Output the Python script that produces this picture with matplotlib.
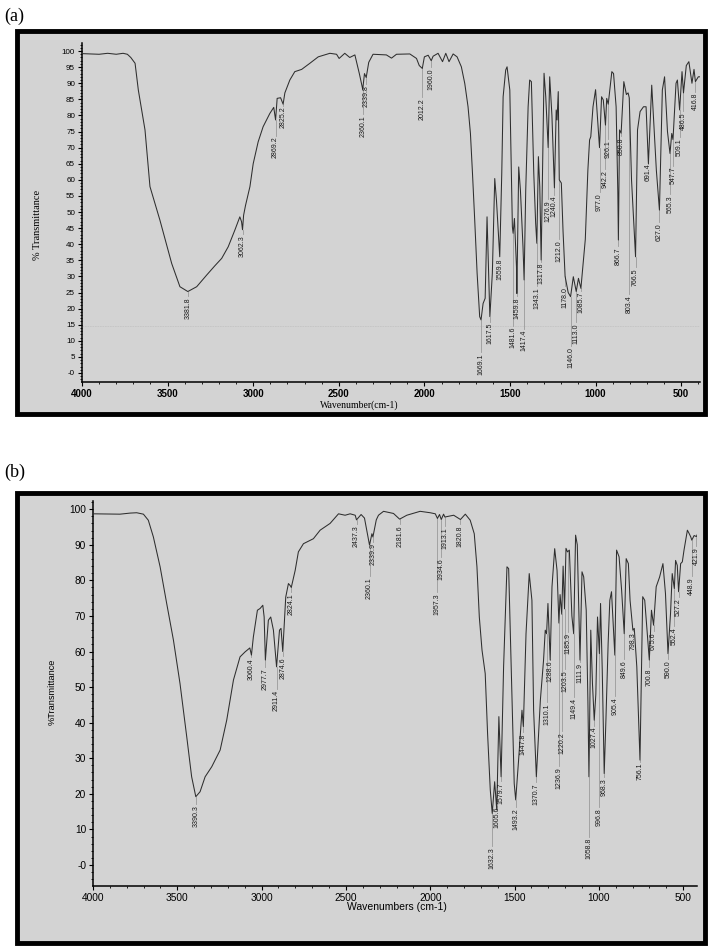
import numpy as np
import matplotlib
matplotlib.use("Agg")
import matplotlib.pyplot as plt
from matplotlib.patches import Rectangle
from matplotlib.ticker import MultipleLocator, FuncFormatter

# --- panel (a) spectrum: wavenumber (cm-1), % transmittance ---
a_wn = [4000, 3900, 3850, 3800, 3760, 3735, 3715, 3690, 3671, 3632, 3603, 3545,
        3476, 3428, 3381.8, 3330, 3272, 3224, 3184, 3146, 3107, 3078, 3068, 3062.3,
        3056, 3045, 3019, 3000, 2971, 2942, 2903, 2880, 2869.2, 2860, 2840, 2825.2,
        2815, 2786, 2757, 2717, 2669, 2620, 2552, 2513, 2498, 2465, 2436, 2406,
        2380, 2360.1, 2350, 2339.8, 2325, 2300, 2222, 2192, 2163, 2085, 2046, 2030,
        2012.2, 2000, 1978, 1960.0, 1949, 1920, 1894, 1875, 1856, 1832, 1809, 1784,
        1764, 1745, 1731, 1719, 1706, 1692, 1677, 1669.1, 1657, 1645, 1634, 1622,
        1617.5, 1603, 1589, 1579, 1568, 1559.8, 1548, 1540, 1525, 1517, 1501, 1486,
        1481.6, 1474, 1462, 1459.8, 1449, 1439, 1424, 1417.4, 1408, 1394, 1385, 1375,
        1361, 1350, 1343.1, 1334, 1326, 1317.8, 1307, 1301, 1291, 1276.9, 1268, 1255,
        1240.4, 1230, 1225, 1218, 1214, 1212.0, 1200, 1190, 1178.0, 1160, 1146.0, 1130,
        1113.0, 1100, 1085.7, 1060, 1045, 1035, 1028, 1015, 1000, 977.0, 965, 955,
        942.2, 935, 926.1, 905, 895, 880, 870, 866.7, 860, 850.8, 835, 820,
        810, 803.4, 790, 766.5, 755, 740, 720, 705, 691.4, 672, 645, 627.0,
        610, 597, 580, 565.3, 555, 547.7, 530, 522, 509.1, 495, 486.5, 470,
        455, 437, 425, 416.8, 400, 390]
a_T = [99.2, 99.0, 99.3, 99.0, 99.3, 99.0, 98.0, 96.2, 87.9, 75.5, 57.9, 47.5,
       34.0, 26.8, 25.3, 26.8, 30.4, 33.3, 35.6, 39.2, 44.4, 48.5, 47.0, 44.5,
       49.0, 52.0, 57.9, 65.0, 71.8, 76.5, 80.6, 82.5, 78.6, 85.3, 85.5, 83.5,
       87.0, 91.0, 93.6, 94.3, 96.2, 98.2, 99.3, 99.0, 97.7, 99.3, 98.0, 98.8,
       93.0, 88.1, 93.0, 91.8, 96.5, 99.0, 98.8, 97.8, 99.0, 99.1, 97.7, 95.5,
       94.6, 98.2, 98.7, 97.0, 98.4, 99.3, 96.7, 99.3, 96.7, 99.1, 98.2, 95.1,
       89.9, 82.7, 74.4, 62.0, 47.5, 31.0, 17.5, 16.5, 21.6, 23.2, 48.5, 25.8,
       17.5, 31.0, 60.4, 53.7, 43.4, 36.1, 62.0, 85.8, 94.1, 95.1, 87.9, 45.4,
       43.4, 48.0, 33.0, 24.7, 64.0, 56.8, 39.2, 28.9, 56.8, 82.7, 91.0, 90.5,
       62.0, 46.5, 40.3, 67.2, 57.9, 35.1, 72.3, 93.1, 85.8, 70.0, 92.0, 80.0,
       57.5, 81.7, 78.6, 87.4, 70.0, 60.0, 59.0, 44.0, 30.0, 25.0, 23.7, 29.9,
       25.3, 29.4, 26.3, 41.5, 63.0, 72.4, 73.4, 82.7, 88.0, 70.0, 85.8, 84.8,
       77.0, 85.3, 83.5, 93.6, 93.0, 82.7, 56.0, 41.3, 75.5, 74.5, 90.5, 86.5,
       87.0, 85.5, 60.0, 36.1, 75.5, 81.2, 82.7, 82.7, 65.0, 89.4, 63.0, 50.6,
       87.9, 92.0, 75.0, 68.2, 74.4, 72.5, 90.0, 91.0, 81.7, 93.6, 87.0, 95.5,
       96.7, 90.0, 94.3, 90.5, 92.0, 92.0]
a_peaks = [3381.8, 3062.3, 2869.2, 2825.2, 2360.1, 2339.8, 2012.2, 1960.0, 1669.1,
           1617.5, 1559.8, 1481.6, 1459.8, 1417.4, 1343.1, 1317.8, 1276.9, 1240.4,
           1212.0, 1178.0, 1146.0, 1113.0, 1085.7, 977.0, 942.2, 926.1, 866.7, 850.8,
           803.4, 766.5, 691.4, 627.0, 565.3, 547.7, 509.1, 486.5, 416.8]
# where each peak label starts (top of rotated text), % units
a_label_y = [23.6, 42.9, 73.4, 82.7, 80.1, 89.4, 85.3, 94.6, 6.2,
             15.5, 35.7, 14.3, 23.6, 13.4, 26.7, 34.2, 53.7, 55.0,
             41.3, 26.7, 8.1, 15.5, 25.2, 55.9, 63.0, 72.4, 39.0, 73.3,
             24.2, 32.6, 65.2, 46.6, 55.3, 64.0, 73.0, 81.0, 87.0]

# --- panel (b) spectrum ---
b_wn = [4000, 3840, 3780, 3741, 3701, 3672, 3642, 3602, 3563, 3523, 3484, 3444,
        3415, 3390.3, 3365, 3335, 3296, 3246, 3207, 3167, 3128, 3098, 3070, 3060.4,
        3049, 3025, 3009, 2993, 2985, 2977.7, 2960, 2946, 2930, 2911.4, 2894, 2885,
        2874.6, 2857, 2841, 2830, 2824.1, 2801, 2782, 2752, 2693, 2653, 2594, 2544,
        2505, 2475, 2445, 2437.3, 2410, 2390, 2372, 2360.1, 2346, 2339.9, 2320, 2307,
        2277, 2218, 2181.6, 2139, 2060, 2000, 1970, 1957.3, 1945, 1934.6, 1921, 1913.1,
        1861, 1820.8, 1792, 1763, 1739, 1723, 1709, 1693, 1674, 1660, 1644, 1632.3,
        1618, 1605.6, 1593, 1579.7, 1565, 1545, 1535, 1515, 1502, 1493.2, 1476, 1456,
        1447.8, 1432, 1413, 1397, 1387, 1370.7, 1347, 1328, 1318, 1310.1, 1302, 1288.6,
        1278, 1262, 1248, 1236.9, 1230, 1220.2, 1212, 1203.5, 1195, 1185.9, 1175, 1160,
        1149.4, 1138, 1128, 1111.9, 1100, 1090, 1075, 1065, 1058.8, 1048, 1038, 1027.4,
        1018, 1008, 996.8, 990, 980, 968.3, 958, 945, 935, 925, 905.4, 895,
        880, 865, 849.6, 838, 825, 815, 798.3, 790, 775, 756.1, 740, 728,
        700.8, 688, 675.6, 660, 640, 620, 605, 590.0, 575, 565, 552.4, 545,
        535, 527.2, 515, 505, 495, 475, 465, 455, 448.9, 435, 421.9, 415]
b_T = [98.7, 98.6, 98.9, 99.0, 98.6, 96.9, 92.2, 83.8, 73.5, 63.2, 51.0, 36.0,
       24.8, 19.2, 20.6, 24.8, 27.6, 32.3, 40.7, 52.0, 58.5, 59.9, 61.0, 59.0,
       64.1, 71.6, 72.1, 73.0, 69.7, 57.6, 68.8, 69.7, 66.0, 55.7, 66.0, 66.5,
       60.0, 75.3, 79.1, 78.5, 78.0, 82.8, 88.0, 90.3, 91.7, 94.1, 96.0, 98.7,
       98.3, 98.7, 98.3, 97.0, 98.5, 97.5, 93.0, 89.9, 93.1, 92.2, 97.0, 98.3,
       99.4, 98.8, 97.2, 98.3, 99.4, 99.0, 98.7, 97.4, 98.5, 97.1, 98.6, 97.8,
       98.3, 97.1, 98.6, 96.9, 93.1, 83.8, 69.7, 60.4, 53.8, 37.0, 21.1, 14.5,
       23.4, 15.5, 41.7, 24.8, 55.7, 83.8, 83.3, 46.3, 22.9, 18.3, 29.5, 43.5,
       38.9, 65.0, 81.9, 74.4, 43.5, 24.8, 46.3, 57.6, 66.0, 65.0, 73.5, 57.6,
       78.2, 88.9, 82.8, 68.0, 76.0, 70.5, 84.0, 72.0, 89.0, 88.0, 88.5, 70.0,
       65.0, 92.7, 90.0, 57.6, 82.4, 81.0, 71.6, 46.0, 24.8, 66.0, 51.0, 40.7,
       48.0, 69.7, 59.4, 73.5, 55.0, 25.7, 41.0, 62.3, 74.4, 76.8, 59.0, 88.5,
       86.6, 77.2, 65.0, 86.1, 84.7, 74.4, 66.0, 66.5, 55.7, 29.5, 75.4, 74.4,
       57.6, 71.6, 67.4, 78.2, 80.9, 84.7, 76.3, 59.4, 70.7, 81.9, 77.7, 85.6,
       84.2, 76.8, 84.7, 85.2, 88.5, 94.1, 93.2, 92.2, 91.3, 92.6, 92.3, 93.0]
b_peaks = [3390.3, 3060.4, 2977.7, 2911.4, 2874.6, 2824.1, 2437.3, 2360.1, 2339.9,
           2181.6, 1957.3, 1934.6, 1913.1, 1820.8, 1632.3, 1605.6, 1579.7, 1493.2,
           1447.8, 1370.7, 1310.1, 1288.6, 1236.9, 1220.2, 1203.5, 1185.9, 1149.4,
           1111.9, 1058.8, 1027.4, 996.8, 968.3, 905.4, 849.6, 798.3, 756.1, 700.8,
           675.6, 590.0, 552.4, 527.2, 448.9, 421.9]
b_label_y = [16.9, 58.1, 55.3, 49.2, 58.4, 76.4, 95.5, 80.9, 90.4,
             95.5, 76.4, 86.2, 95.0, 95.5, 5.0, 16.3, 23.3, 16.0,
             37.0, 23.0, 45.5, 57.6, 27.5, 37.4, 54.8, 65.2, 46.9,
             56.7, 7.6, 38.8, 16.0, 24.4, 47.2, 57.6, 65.4, 28.7, 55.3,
             65.4, 57.6, 66.9, 75.0, 80.9, 89.3]

W, H = 709, 948
fig = plt.figure(figsize=(W / 100, H / 100), dpi=100)

SANS = ['Liberation Sans', 'DejaVu Sans']
NARROW = ['Liberation Sans Narrow', 'Liberation Sans', 'DejaVu Sans']
SERIF = ['Liberation Serif', 'DejaVu Serif']


def fx(px):
    return px / W


def fy(py):
    return 1 - py / H


def panel_box(x0, y0, x1, y1):
    fig.add_artist(Rectangle((fx(x0), fy(y1)), fx(x1 - x0), (y1 - y0) / H,
                             transform=fig.transFigure, facecolor='#d3d3d3',
                             edgecolor='black', lw=3.5, zorder=0))


def zero_fmt(v, pos):
    return '-0' if abs(v) < 1e-9 else '%d' % v


def draw_spectrum(ax, wn, T, peaks, label_y):
    wn = np.array(wn)
    T = np.array(T)
    ax.plot(wn, T, color='#2e2e2e', lw=0.75, zorder=3)
    dips = np.interp(peaks, wn[::-1], T[::-1])
    for p, d, ly in zip(peaks, dips, label_y):
        ax.plot([p, p], [d, ly + 0.3], color='#9a9a9a', lw=0.6, zorder=2)
        ax.text(p, ly, '%.1f' % p, rotation=90, ha='center', va='top',
                fontsize=5, family=NARROW, color='#1a1a1a', zorder=4)


def style_axes(ax):
    ax.set_facecolor('none')
    for s in ['top', 'right']:
        ax.spines[s].set_visible(False)
    for s in ['left', 'bottom']:
        ax.spines[s].set_linewidth(1.1)
    ax.yaxis.set_major_formatter(FuncFormatter(zero_fmt))
    ax.tick_params(axis='both', which='major', length=3, width=0.8, pad=2)
    ax.tick_params(axis='both', which='minor', length=1.5, width=0.6)


# ---------------- panel (a) ----------------
panel_box(17, 31, 705, 414)
fig.text(fx(4), fy(16), '(a)', fontsize=13, family=SERIF, va='center', ha='left')
ax_a = fig.add_axes([fx(82), fy(382), fx(700 - 82), (382 - 43) / H])
style_axes(ax_a)
ax_a.set_xlim(4000, 390)
ax_a.set_ylim(-2.8, 102.5)
ax_a.set_xticks([4000, 3500, 3000, 2500, 2000, 1500, 1000, 500])
ax_a.yaxis.set_major_locator(MultipleLocator(5))
ax_a.yaxis.set_minor_locator(MultipleLocator(1))
ax_a.xaxis.set_minor_locator(MultipleLocator(100))
ax_a.tick_params(axis='y', labelsize=5.8)
ax_a.tick_params(axis='x', labelsize=7)
for lab in ax_a.get_xticklabels() + ax_a.get_yticklabels():
    lab.set_family(SANS)
for lab in ax_a.get_xticklabels():
    lab.set_fontweight('bold')
ax_a.axhline(14.5, color='#c4c4c4', lw=0.6, ls=(0, (2, 1)), zorder=1)
draw_spectrum(ax_a, a_wn, a_T, a_peaks, a_label_y)
fig.text(fx(38), fy(225), '% Transmittance', rotation=90, fontsize=7.5,
         family=SERIF, ha='center', va='center')
fig.text(fx(359), fy(405), 'Wavenumber(cm-1)', fontsize=7, family=SERIF,
         ha='center', va='center')

# ---------------- panel (b) ----------------
panel_box(17, 493, 705, 943)
fig.text(fx(4), fy(472), '(b)', fontsize=13, family=SERIF, va='center', ha='left')
ax_b = fig.add_axes([fx(93), fy(886), fx(697 - 93), (886 - 501) / H])
style_axes(ax_b)
ax_b.set_xlim(4000, 418)
ax_b.set_ylim(-5.9, 102.3)
ax_b.set_xticks([4000, 3500, 3000, 2500, 2000, 1500, 1000, 500])
ax_b.yaxis.set_major_locator(MultipleLocator(10))
ax_b.yaxis.set_minor_locator(MultipleLocator(2))
ax_b.xaxis.set_minor_locator(MultipleLocator(100))
ax_b.tick_params(axis='y', labelsize=7.3)
ax_b.tick_params(axis='x', labelsize=7.3)
for lab in ax_b.get_xticklabels() + ax_b.get_yticklabels():
    lab.set_family(SANS)
draw_spectrum(ax_b, b_wn, b_T, b_peaks, b_label_y)
fig.text(fx(52), fy(692), '%Transmittance', rotation=90, fontsize=6.6,
         family=SANS, ha='center', va='center')
fig.text(fx(397), fy(907), 'Wavenumbers (cm-1)', fontsize=7.5, family=SANS,
         ha='center', va='center')

fig.savefig('out.png', dpi=100)
